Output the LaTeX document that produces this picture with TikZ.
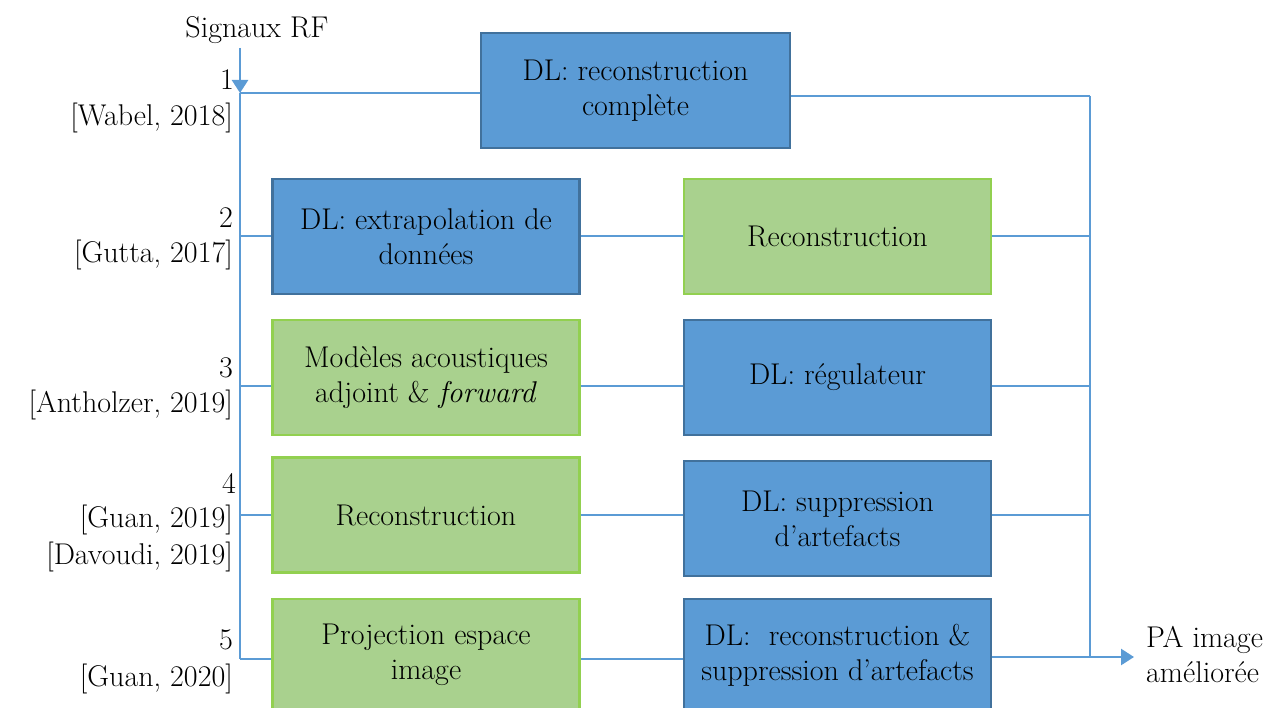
\documentclass[tikz,border=0pt]{standalone}
\usepackage{tikz}
\usetikzlibrary{arrows.meta}

\definecolor{dlblue}{HTML}{5B9BD5}
\definecolor{dlborder}{HTML}{41719C}
\definecolor{recgreen}{HTML}{A9D18E}
\definecolor{recborder}{HTML}{92D050}
\definecolor{busblue}{HTML}{5B9BD5}

\begin{document}
\begin{tikzpicture}[x=1pt, y=-1pt,
    every node/.style={font=\fontsize{30}{35}\selectfont, align=center},
    dlbox/.style={draw=dlborder, fill=dlblue, line width=2.4pt, minimum width=307pt, minimum height=115pt, inner sep=0pt},
    recbox/.style={draw=recborder, fill=recgreen, line width=2.4pt, minimum width=307pt, minimum height=115pt, inner sep=0pt},
    bus/.style={draw=busblue, line width=2.6pt},
    ref/.style={anchor=east, inner sep=0pt, align=right}]
            \useasboundingbox (0,0) rectangle (1279,708);

            \node (b1) [dlbox, minimum width=309pt] at (635.5,90.5) {DL: reconstruction\\complète};
            \node (b2) [dlbox] at (426,236.5) {DL: extrapolation de\\données};
            \node (b3) [recbox] at (837.5,236.5) {Reconstruction};
            \node (b4) [recbox] at (426,377.5) {Modèles acoustiques\\adjoint \& \textit{forward}};
            \node (b5) [dlbox] at (837.5,377.5) {DL: régulateur};
            \node (b6) [recbox] at (426,515) {Reconstruction};
            \node (b7) [dlbox] at (837.5,518.5) {DL: suppression\\d'artefacts};
            \node (b8) [recbox, minimum height=112pt] at (426,655) {Projection espace\\image};
            \node (b9) [dlbox, minimum height=112pt] at (837.5,655) {DL:~ reconstruction \&\\suppression d'artefacts};

            \node (sig) [inner sep=0pt] at (257,30) {Signaux RF};
            \node (res) [anchor=west, align=left, inner sep=0pt] at (1146,655) {PA image\\améliorée};

            \node (n1) [ref] at (234,80) {1};
            \node (c1) [ref] at (233,118) {[Wabel, 2018]};
            \node (n2) [ref] at (233,218) {2};
            \node (c2) [ref] at (233,255) {[Gutta, 2017]};
            \node (n3) [ref] at (233,368) {3};
            \node (c3) [ref] at (233,405) {[Antholzer, 2019]};
            \node (n4) [ref] at (236,483) {4};
            \node (c4) [ref] at (233,520) {[Guan, 2019]};
            \node (c4b) [ref] at (233,557) {[Davoudi, 2019]};
            \node (n5) [ref] at (233,640) {5};
            \node (c5) [ref] at (233,679) {[Guan, 2020]};

            % bus points
            \coordinate (in) at (240,48);
            \coordinate (l1) at (240,93);
            \coordinate (l2) at (240,236);
            \coordinate (l3) at (240,386);
            \coordinate (l4) at (240,515);
            \coordinate (l5) at (240,659);
            \coordinate (r1) at (1090,96);
            \coordinate (r2) at (1090,236);
            \coordinate (r3) at (1090,386);
            \coordinate (r4) at (1090,515);
            \coordinate (r5) at (1090,657);
            \coordinate (out) at (1134,657);

            \draw[bus, -{Triangle[width=16pt,length=13pt]}] (in) -- (l1);
            \draw[bus] (l1) -- (l5);
            \draw[bus] (r1) -- (r5);

            \draw[bus] (l1) -- (b1.west |- l1);
            \draw[bus] (b1.east |- r1) -- (r1);

            \draw[bus] (l2) -- (b2.west |- l2);
            \draw[bus] (b2.east |- l2) -- (b3.west |- l2);
            \draw[bus] (b3.east |- r2) -- (r2);

            \draw[bus] (l3) -- (b4.west |- l3);
            \draw[bus] (b4.east |- l3) -- (b5.west |- l3);
            \draw[bus] (b5.east |- r3) -- (r3);

            \draw[bus] (l4) -- (b6.west |- l4);
            \draw[bus] (b6.east |- l4) -- (b7.west |- l4);
            \draw[bus] (b7.east |- r4) -- (r4);

            \draw[bus] (l5) -- (b8.west |- l5);
            \draw[bus] (b8.east |- l5) -- (b9.west |- l5);
            \draw[bus, -{Triangle[width=16pt,length=13pt]}] (b9.east |- r5) -- (out);
          \end{tikzpicture}
\end{document}
